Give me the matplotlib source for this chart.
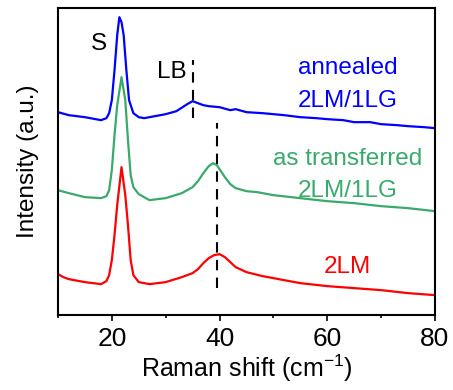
import numpy as np
import matplotlib
matplotlib.use('Agg')
import matplotlib.pyplot as plt
from matplotlib.ticker import MultipleLocator

plt.rcParams['font.family'] = ['Liberation Sans', 'DejaVu Sans']
plt.rcParams['mathtext.fontset'] = 'custom'
plt.rcParams['mathtext.rm'] = 'Liberation Sans'

# annealed 2LM/1LG (blue)
x_blue = [10, 12, 15, 17, 18, 19, 19.5, 20, 20.5, 21, 21.4, 21.8, 22.2, 22.7, 23.2, 24, 25, 26, 28, 30,
          32, 34, 35, 36, 37, 38, 40, 42, 43, 45, 48, 50, 52, 55, 58, 60, 63, 65, 68, 70, 73, 75, 78, 80]
y_blue = [203, 200, 198, 196, 195, 197, 202, 215, 245, 280, 298, 293, 280, 245, 215, 202, 198, 197, 199, 201,
          204, 211, 214, 212, 210, 209, 208, 205, 206, 203, 202, 201, 200, 198, 197, 196, 195, 193, 193, 191, 190, 189, 188, 187]

# as transferred 2LM/1LG (green)
x_green = [10, 12, 15, 18, 19, 19.5, 20, 20.5, 21, 21.8, 22.5, 23, 23.5, 24, 25, 27, 30, 33, 35, 36, 37, 38,
           38.8, 39.5, 40, 41, 42, 43, 45, 47, 50, 55, 60, 65, 70, 75, 80]
y_green = [125, 122, 118, 117, 119, 125, 145, 180, 210, 238, 215, 175, 140, 128, 121, 115, 117, 122, 128, 134, 142, 149,
           152, 150, 146, 138, 131, 127, 124, 123, 120, 117, 114, 112, 109, 107, 104]

# 2LM (red)
x_red = [10, 11, 12, 15, 18, 19, 19.5, 20, 20.5, 21, 21.8, 22.5, 23, 23.5, 24, 25, 27, 30, 33, 35, 36, 37, 38,
         39, 40, 41, 42, 43, 45, 48, 50, 55, 60, 65, 70, 75, 80]
y_red = [41, 38, 36, 33, 31, 34, 40, 55, 80, 110, 148, 120, 90, 55, 40, 33, 31, 33, 38, 42, 46, 52, 57,
         60, 61, 58, 53, 48, 43, 39, 37, 32, 29, 27, 25, 22, 20]

blue = '#0000ff'
green = '#3aaa6c'
red = '#ff0000'
fs = 17.5

fig = plt.figure(figsize=(4.53, 3.90), dpi=100)
ax = fig.add_axes([0.128, 0.192, 0.832, 0.787])

ax.plot(x_blue, y_blue, color=blue, lw=1.6)
ax.plot(x_green, y_green, color=green, lw=1.6)
ax.plot(x_red, y_red, color=red, lw=1.6)

# peak markers
ax.plot([35, 35], [197, 255], color='black', lw=1.5, ls=(0, (5, 3.5)))
ax.plot([39.5, 39.5], [27, 192], color='black', lw=1.5, ls=(0, (5, 3.5)))

ax.text(17.7, 265, 'S', fontsize=fs, ha='center', va='baseline')
ax.text(31.2, 237, 'LB', fontsize=fs, ha='center', va='baseline')

ax.text(63.8, 241, 'annealed', color=blue, fontsize=fs, ha='center', va='baseline')
ax.text(63.8, 208, '2LM/1LG', color=blue, fontsize=fs, ha='center', va='baseline')
ax.text(63.8, 150, 'as transferred', color=green, fontsize=fs, ha='center', va='baseline')
ax.text(63.8, 118, '2LM/1LG', color=green, fontsize=fs, ha='center', va='baseline')
ax.text(63.8, 42, '2LM', color=red, fontsize=fs, ha='center', va='baseline')

ax.set_xlim(10, 80)
ax.set_ylim(0, 307)
ax.set_yticks([])
ax.xaxis.set_major_locator(MultipleLocator(20))
ax.xaxis.set_minor_locator(MultipleLocator(10))
ax.tick_params(axis='x', which='major', direction='out', length=4.5, width=1.2, labelsize=19, pad=4)
ax.tick_params(axis='x', which='minor', direction='out', length=2.5, width=1.2)
for s in ax.spines.values():
    s.set_linewidth(1.5)

ax.set_xlabel('Raman shift (cm$^{\\mathregular{-1}}$)', fontsize=18, labelpad=1)
ax.set_ylabel('Intensity (a.u.)', fontsize=fs, labelpad=14)

fig.savefig('out.png', dpi=100)
